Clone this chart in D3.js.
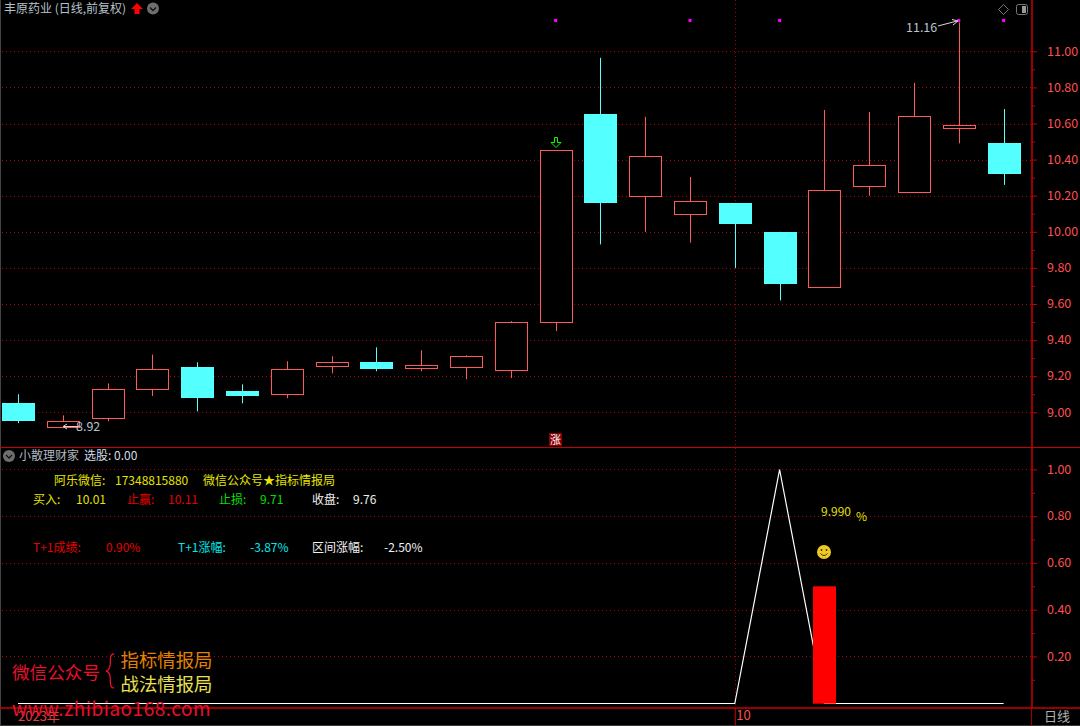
<!DOCTYPE html>
<html><head><meta charset="utf-8">
<script src="https://cdn.jsdelivr.net/npm/d3@7"></script>
<style>
html,body{margin:0;padding:0;background:#000;overflow:hidden}
svg{display:block}
text{font-family:"Noto Sans CJK SC","Noto Sans",sans-serif;font-size:12px}
</style></head><body><svg id="c" width="1080" height="726"></svg>
<script>
const opens  =[9.05,8.912,8.963,9.124,9.25,9.117,9.096,9.255,9.277,9.245,9.247,9.233,9.497,10.653,10.193,10.096,10.16,10.0,9.69,10.25,10.218,10.575,10.49];
const closes =[8.95,8.948,9.126,9.237,9.078,9.09,9.236,9.277,9.238,9.26,9.308,9.50,10.45,10.16,10.417,10.168,10.043,9.71,10.23,10.367,10.64,10.59,10.32];
const highs  =[9.10,8.983,9.16,9.32,9.277,9.155,9.283,9.31,9.36,9.344,9.316,9.505,10.45,10.964,10.637,10.304,10.16,10.0,10.675,10.664,10.825,11.16,10.68];
const lows   =[8.94,8.912,8.95,9.09,9.005,9.05,9.078,9.216,9.227,9.227,9.183,9.19,9.45,9.93,10.0,9.94,9.80,9.62,9.69,10.2,10.218,10.49,10.26];
const priceTicks=[9.0,9.2,9.4,9.6,9.8,10.0,10.2,10.4,10.6,10.8,11.0];
const indTicks=[0.2,0.4,0.6,0.8,1.0];
const signalLine=[0,0,0,0,0,0,0,0,0,0,0,0,0,0,0,0,0,1,0,0,0,0,0];
const signalBar=[{i:18,v:0.5}];
const markerIdx=[12,15,17,21,22];

const svg=d3.select("#c");
const RED="#c80000",AX="#ff4f4f",CY="#54ffff",UP="#ff5a5a";
const x=d3.scaleLinear().domain([0,22]).range([18,1003.6]);
const y=d3.scaleLinear().domain([9,11]).range([412.3,51.3]);
const y2=d3.scaleLinear().domain([0,1]).range([703.2,469.4]);
const crisp=v=>Math.round(v)+0.5, crispF=v=>Math.floor(v)+0.5, bw=32;

function grid(vals,sc){
  svg.append("g").selectAll("line").data(vals).join("line")
   .attr("x1",2).attr("x2",1032).attr("y1",d=>crisp(sc(d))).attr("y2",d=>crisp(sc(d)))
   .attr("stroke","#b00000").attr("stroke-dasharray","1 3");
}
grid(priceTicks,y); grid(indTicks,y2);
svg.append("line").attr("x1",crisp(x(16))).attr("x2",crisp(x(16))).attr("y1",0).attr("y2",708)
  .attr("stroke","#a00000").attr("stroke-dasharray","1 3");

// candles
const idx=d3.range(opens.length);
const g=svg.append("g").selectAll("g").data(idx).join("g");
g.append("line").attr("x1",i=>crisp(x(i))).attr("x2",i=>crisp(x(i)))
 .attr("y1",i=>y(highs[i])).attr("y2",i=>y(lows[i]))
 .attr("stroke",i=>closes[i]>=opens[i]?UP:CY);
g.append("rect")
 .attr("x",i=>closes[i]>=opens[i]?crisp(x(i)-bw/2):Math.round(x(i)-bw/2))
 .attr("width",i=>closes[i]>=opens[i]?bw:bw+1)
 .attr("y",i=>{const v=y(Math.max(opens[i],closes[i]));return closes[i]>=opens[i]?crispF(v):Math.round(v)})
 .attr("height",i=>Math.max(1,Math.round(Math.abs(y(opens[i])-y(closes[i])))))
 .attr("fill",i=>closes[i]>=opens[i]?"#000":CY)
 .attr("stroke",i=>closes[i]>=opens[i]?UP:"none");

// markers
svg.append("g").selectAll("rect").data(markerIdx).join("rect")
 .attr("x",i=>x(i)-1.5).attr("y",19).attr("width",3).attr("height",3).attr("fill","#ff00ff");

function T(s,xp,yp,c,o={}){const t=svg.append("text").attr("x",xp).attr("y",yp).attr("fill",c).text(s);
 if(o.size)t.style("font-size",o.size+"px"); if(o.ls)t.style("letter-spacing",o.ls+"px"); return t;}
T("11.16",906,32,"#b8c4d0",{size:12.5});
svg.append("path").attr("d",`M938,26L957,21M952,19.5L958,21L953,25`).attr("fill","none").attr("stroke","#d8d8d8");
T("8.92",76,431,"#b8c4d0",{size:12.5});
svg.append("path").attr("d",`M64,426.5H78M67,424L63,426.5L67,429`).attr("fill","none").attr("stroke","#d8d8d8");

// green arrow
svg.append("path").attr("d","M554.5,137.5h3v5h3.5l-5,5l-5,-5h3.5z").attr("fill","#000").attr("stroke","#00ff00");
// 涨 tag
svg.append("rect").attr("x",549).attr("y",433).attr("width",13).attr("height",13).attr("fill","#8a0000");
T("涨",550,444,"#fff",{size:11});

// indicator
svg.append("path").datum(signalLine)
 .attr("d",d3.line().x((d,i)=>x(i)).y(d=>Math.floor(y2(d))+0.5))
 .attr("fill","none").attr("stroke","#fff").attr("stroke-width",1.2);
svg.append("g").selectAll("rect").data(signalBar).join("rect")
 .attr("x",d=>Math.round(x(d.i))-11).attr("width",23)
 .attr("y",d=>y2(d.v)).attr("height",d=>y2(0)-y2(d.v)+0.5).attr("fill","#ff0000");
T("9.990",821,516,"#e0e000");
T("%",856,521,"#e0e000");
const face=svg.append("g").attr("transform","translate(824,552)");
face.append("circle").attr("r",7).attr("fill","#f0c820");
face.append("circle").attr("cx",-2.5).attr("cy",-2).attr("r",0.9).attr("fill","#333");
face.append("circle").attr("cx",2.5).attr("cy",-2).attr("r",0.9).attr("fill","#333");
face.append("path").attr("d","M-3.5,1.5Q0,5.5 3.5,1.5").attr("fill","none").attr("stroke","#333");

// frame
svg.append("rect").attr("x",0).attr("y",0).attr("width",1).attr("height",726).attr("fill","#444");
svg.append("line").attr("x1",0).attr("x2",1080).attr("y1",447.5).attr("y2",447.5).attr("stroke",RED);
svg.append("line").attr("x1",0).attr("x2",1080).attr("y1",708).attr("y2",708).attr("stroke",RED).attr("stroke-width",1.5);
svg.append("line").attr("x1",0).attr("x2",1080).attr("y1",725.5).attr("y2",725.5).attr("stroke","#3a3a3a");
svg.append("line").attr("x1",1031.5).attr("x2",1031.5).attr("y1",708).attr("y2",726).attr("stroke","#a00000");

// axes
function axis(sc,ticks,yrange,minor){
  const a=svg.append("g").attr("transform","translate(1032,0)");
  a.call(d3.axisRight(sc).tickValues(ticks).tickSize(5).tickPadding(10).tickFormat(d3.format(".2f")));
  a.select(".domain").remove();
  a.selectAll("line").attr("stroke",RED);
  a.selectAll("text").attr("fill",AX).attr("dy","0.3em").style("font-size","12.5px");
  const m=svg.append("g").attr("transform","translate(1032,0)");
  m.call(d3.axisRight(sc).tickValues(minor).tickSize(3).tickFormat(""));
  m.select(".domain").remove(); m.selectAll("line").attr("stroke",RED);
  svg.append("line").attr("x1",1032).attr("x2",1032).attr("y1",yrange[0]).attr("y2",yrange[1]).attr("stroke",RED).attr("stroke-width",1.5);
}
axis(y,priceTicks,[0,447],[9.1,9.3,9.5,9.7,9.9,10.1,10.3,10.5,10.7,10.9]);
axis(y2,indTicks,[447,708],[0.1,0.3,0.5,0.7,0.9]);

// x axis
const xa=svg.append("g").attr("transform","translate(0,708)");
xa.call(d3.axisBottom(x).tickValues([16]).tickSize(17).tickPadding(-14).tickFormat(()=>"10"));
xa.select(".domain").remove();
xa.selectAll("line").attr("stroke",RED);
xa.selectAll("text").attr("fill",AX).attr("text-anchor","start").attr("dx",1).style("font-size","13px");
T("日线",1044,721,"#b0b0b0",{size:13});

// header
T("丰原药业 (日线,前复权)",4,13,"#b8c0c8");
svg.append("path").attr("d","M137,3L143,9H139.5V14H134.5V9H131Z").attr("fill","#ff0000");
function chev(cx,cy){svg.append("circle").attr("cx",cx).attr("cy",cy).attr("r",6).attr("fill","#6e6e6e");
 svg.append("path").attr("d",`M${cx-3},${cy-1}L${cx},${cy+2}L${cx+3},${cy-1}`).attr("fill","none").attr("stroke","#111").attr("stroke-width",1.3);}
chev(153,8.5);
svg.append("path").attr("d","M1003.5,4.5L1008.5,9.5L1003.5,14.5L998.5,9.5Z").attr("fill","none").attr("stroke","#777");
svg.append("rect").attr("x",1016.5).attr("y",4.5).attr("width",11).attr("height",10).attr("rx",2).attr("fill","none").attr("stroke","#777");
svg.append("rect").attr("x",1022).attr("y",6).attr("width",4).attr("height",7).attr("fill","#999");

// pane header
chev(9,456);
T("小散理财家",19,460,"#b0b8c0");
T("选股: 0.00",84,460,"#d0dce8");

const YEL="#e4e400",RD="#e60000",GR="#00e000",WH="#f0f0f0",CYT="#00e8e8";
[["阿乐微信:",54,485,YEL],["17348815880",115,485,YEL],["微信公众号★指标情报局",203,485,YEL],
 ["买入:",33,504,YEL],["10.01",76,504,YEL],["止赢:",127,504,RD],["10.11",168,504,RD],
 ["止损:",219,504,GR],["9.71",260,504,GR],["收盘:",312,504,WH],["9.76",353,504,WH],
 ["T+1成绩:",33,552,RD],["0.90%",106,552,RD],["T+1涨幅:",178,552,CYT],["-3.87%",250,552,CYT],
 ["区间涨幅:",312,552,WH],["-2.50%",384,552,WH]].forEach(r=>T(r[0],r[1],r[2],r[3]));

// overlay watermark
T("微信公众号",12,679,"#e8102c",{size:17.6});
svg.append("path").attr("d","M114,654C109,654 111,660 110,666C109.5,669 108,670.5 106,671C108,671.5 109.5,673 110,676C111,682 109,688 114,688").attr("fill","none").attr("stroke","#e8102c").attr("stroke-width",1.3);
T("指标情报局",120.5,667,"#e08200",{size:18.4});
T("战法情报局",120.5,691,"#e8e050",{size:18.4});
T("2023年",18,721,"#e04040",{size:13});
T("www.zhibiao168.com",12,716,"#e8102c",{size:19,ls:0.5});
</script></body></html>
